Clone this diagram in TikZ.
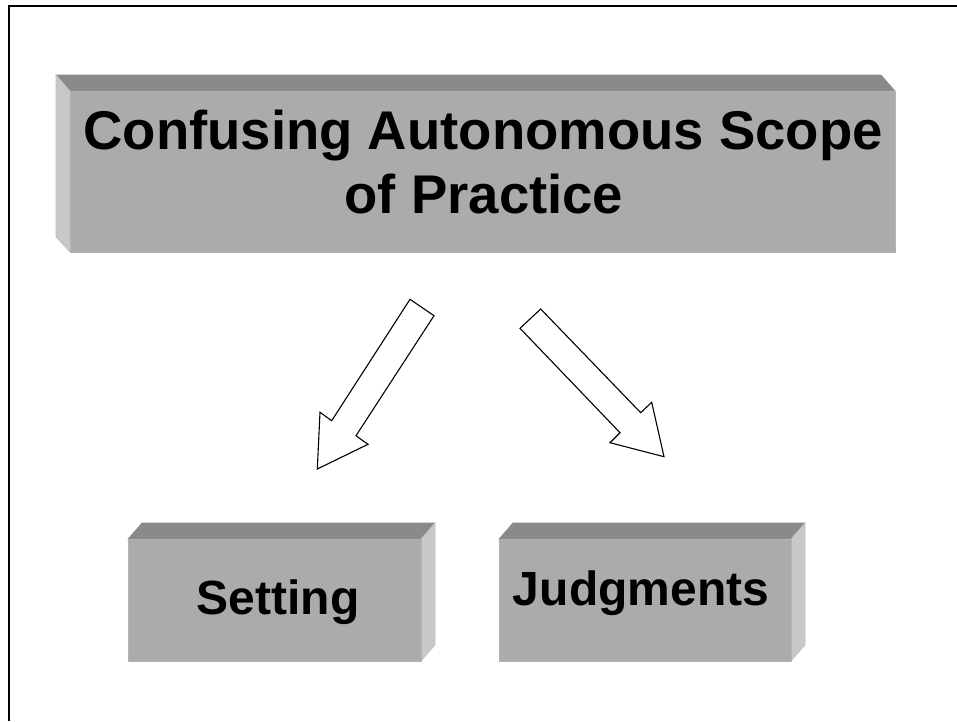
\documentclass[tikz,border=0pt]{standalone}
\usepackage{fontspec}
\setmainfont{Liberation Sans}
\definecolor{frontgray}{HTML}{ABABAB}
\definecolor{topgray}{HTML}{8A8A8A}
\definecolor{sidegray}{HTML}{C8C8C8}
\begin{document}
\begin{tikzpicture}[x=1pt,y=-1pt,
  front/.style={fill=frontgray,draw=frontgray!90!white,line width=0.6pt},
  topface/.style={fill=topgray,draw=topgray,line width=0.6pt},
  sideface/.style={fill=sidegray,draw=sidegray!90!gray,line width=0.6pt},
  blockarrow/.style={draw=black,fill=white,line width=1.1pt,line join=miter},
  bigtext/.style={font=\fontsize{54.5}{64}\selectfont\bfseries,align=center,text=black,inner sep=0pt},
  smalltext/.style={font=\fontsize{48}{54}\selectfont\bfseries,text=black,inner sep=0pt}]
\useasboundingbox (0,0) rectangle (957,721);
\fill[white] (0,0) rectangle (957,721);
% frame
\draw[line width=2.6pt] (9,721) -- (9,6) -- (957,6);
% top box
\fill[topface] (56,75) -- (881,75) -- (895,91) -- (70,91) -- cycle;
\fill[sideface] (56,75) -- (70,91) -- (70,252) -- (56,237) -- cycle;
\fill[front] (70,91) rectangle (895,252);
\node[bigtext,anchor=base] (title1) at (483,149) {Confusing Autonomous Scope};
\node[bigtext,anchor=base] (title2) at (484,213) {of Practice};
% Setting box
\fill[topface] (128,539) -- (142,523) -- (435,523) -- (421,539) -- cycle;
\fill[sideface] (421,539) -- (435,523) -- (435,645) -- (421,661) -- cycle;
\fill[front] (128,539) rectangle (421,661);
\node[smalltext,anchor=base] (setting) at (278,614) {Setting};
% Judgments box
\fill[topface] (499,539) -- (513,523) -- (805,523) -- (791,539) -- cycle;
\fill[sideface] (791,539) -- (805,523) -- (805,645) -- (791,661) -- cycle;
\fill[front] (499,539) rectangle (791,661);
\node[smalltext,anchor=base] (judg) at (641,605) {Judgments};
% left block arrow
\draw[blockarrow] (410,299.3) -- (434,315.7) -- (356,435.7) -- (368,444.3) -- (317.3,469) -- (320,412.3) -- (331.7,420.7) -- cycle;
% right block arrow
\draw[blockarrow] (540.7,309) -- (520,328.3) -- (620,432.7) -- (610,442.7) -- (664,456.7) -- (651.7,402.3) -- (640.7,412.7) -- cycle;
\end{tikzpicture}
\end{document}
